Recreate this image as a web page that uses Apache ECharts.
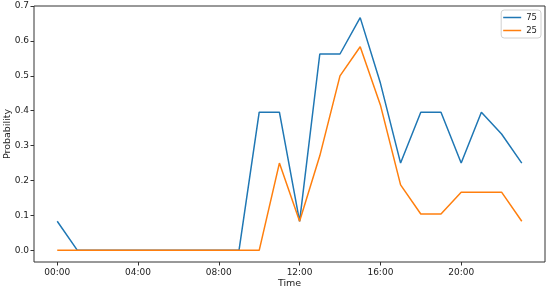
<!DOCTYPE html>
<html>
<head>
<meta charset="utf-8">
<script src="https://cdn.jsdelivr.net/npm/echarts@6/dist/echarts.min.js"></script>
<style>html,body{margin:0;padding:0;background:#fff}#c{width:550px;height:289px}</style>
</head>
<body>
<div id="c"></div>
<script>
var hours = [0,1,2,3,4,5,6,7,8,9,10,11,12,13,14,15,16,17,18,19,20,21,22,23];
var series75 = [0.0833,0,0,0,0,0,0,0,0,0,0.3958,0.3958,0.0833,0.5625,0.5625,0.6667,0.4792,0.25,0.3958,0.3958,0.25,0.3958,0.3333,0.25];
var series25 = [0,0,0,0,0,0,0,0,0,0,0,0.25,0.0833,0.2708,0.5,0.5833,0.4167,0.1875,0.1042,0.1042,0.1667,0.1667,0.1667,0.0833];
var xTickValues = [0,4,8,12,16,20];
var xTickLabels = ['00:00','04:00','08:00','12:00','16:00','20:00'];
var yTickValues = [0,0.1,0.2,0.3,0.4,0.5,0.6,0.7];
var yTickLabels = ['0.0','0.1','0.2','0.3','0.4','0.5','0.6','0.7'];

function pairs(vals){ return hours.map(function(h,i){ return [h, vals[i]]; }); }

var chart = echarts.init(document.getElementById('c'), null, {renderer:'canvas'});
var font = 'DejaVu Sans';
chart.setOption({
  animation:false,
  grid:{left:34,right:5,top:6,bottom:27,show:true,borderColor:'#333',borderWidth:1,backgroundColor:'transparent',containLabel:false,outerBoundsMode:'none'},
  legend:{
    data:['75','25'], orient:'vertical', right:9, top:10,
    icon:'rect', itemWidth:18, itemHeight:1.5, itemGap:2,
    borderColor:'#d0d0d0', borderWidth:1, borderRadius:3, padding:[2,4,2,2],
    textStyle:{fontFamily:font,fontSize:8.5,color:'#222',lineHeight:11}
  },
  xAxis:{
    type:'value', min:-1.15, max:24.15,
    name:'Time', nameLocation:'middle', nameGap:17, nameMoveOverlap:false,
    nameTextStyle:{fontFamily:font,fontSize:9.5,color:'#222'},
    axisLine:{show:false,onZero:false},
    axisTick:{show:true,customValues:xTickValues,length:3.5,lineStyle:{color:'#333'}},
    axisLabel:{customValues:xTickValues,fontFamily:font,fontSize:9,color:'#222',margin:6,
      formatter:function(v){ var i=xTickValues.indexOf(v); return i>=0?xTickLabels[i]:''; }},
    splitLine:{show:false}
  },
  yAxis:{
    type:'value', min:-0.0333, max:0.7,
    name:'Probability', nameLocation:'middle', nameGap:21, nameRotate:90, nameMoveOverlap:false,
    nameTextStyle:{fontFamily:font,fontSize:9.5,color:'#222'},
    axisLine:{show:false,onZero:false},
    axisTick:{show:true,customValues:yTickValues,length:3.5,lineStyle:{color:'#333'}},
    axisLabel:{customValues:yTickValues,fontFamily:font,fontSize:9,color:'#222',margin:5,
      formatter:function(v){ var i=yTickValues.findIndex(function(t){return Math.abs(t-v)<1e-9;}); return i>=0?yTickLabels[i]:''; }},
    splitLine:{show:false}
  },
  series:[
    {name:'75',type:'line',data:pairs(series75),showSymbol:false,symbol:'none',color:'#1f77b4',lineStyle:{width:1.5,color:'#1f77b4'}},
    {name:'25',type:'line',data:pairs(series25),showSymbol:false,symbol:'none',color:'#ff7f0e',lineStyle:{width:1.5,color:'#ff7f0e'}}
  ]
});
</script>
</body>
</html>
